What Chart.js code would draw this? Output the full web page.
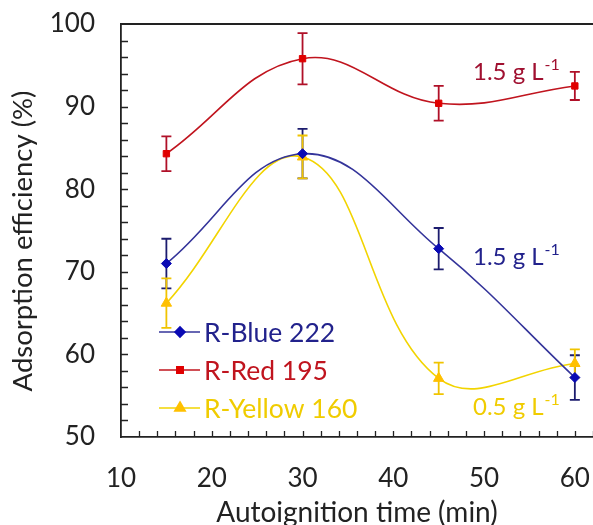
<!DOCTYPE html>
<html>
<head>
<meta charset="utf-8">
<script src="https://cdn.jsdelivr.net/npm/chart.js@4/dist/chart.umd.min.js"></script>
<style>
  html, body { margin: 0; padding: 0; background: #fff; }
  #wrap { width: 593px; height: 525px; }
</style>
</head>
<body>
<div id="wrap"><canvas id="chart" width="593" height="525"></canvas></div>
<script>
const times = [15, 30, 45, 60];
const blueVals = [71.0, 84.3, 72.8, 57.2];
const blueErr = [3.0, 3.0, 2.5, 2.7];
const redVals = [84.3, 95.8, 90.4, 92.5];
const redErr = [2.1, 3.1, 2.1, 1.7];
const yellowVals = [66.2, 83.9, 57.1, 58.9];
const yellowErr = [3.0, 2.6, 1.9, 1.7];

const seriesNames = ["R-Blue 222", "R-Red 195", "R-Yellow 160"];
const xTickValues = [10, 20, 30, 40, 50, 60];
const yTickValues = [50, 60, 70, 80, 90, 100];
const yTitle = "Adsorption efficiency (%)";

const FONT = "Lato, 'Open Sans', sans-serif";

const series = [
  { vals: blueVals, err: blueErr, line: "#34349a", point: "#0a0ab4", errColor: "#1c1c6e", text: "#22228c", style: "rectRot", radius: 5 },
  { vals: redVals, err: redErr, line: "#c0141e", point: "#e00000", errColor: "#b01028", text: "#c0141e", style: "rect", radius: 4.5 },
  { vals: yellowVals, err: yellowErr, line: "#f2d400", point: "#ffc000", errColor: "#f0c400", text: "#f0cc00", style: "triangle", radius: 6 },
];

function toPoints(vals) {
  return times.map((t, i) => ({ x: t, y: vals[i] }));
}

const frameAndBars = {
  id: "frameAndBars",
  beforeDatasetsDraw(chart) {
    const { ctx, scales: { x, y } } = chart;
    ctx.save();
    ctx.lineWidth = 1.8;
    series.forEach((s) => {
      ctx.strokeStyle = s.errColor;
      s.vals.forEach((v, j) => {
        const px = x.getPixelForValue(times[j]);
        const top = y.getPixelForValue(v + s.err[j]);
        const bot = y.getPixelForValue(v - s.err[j]);
        ctx.beginPath();
        ctx.moveTo(px, top);
        ctx.lineTo(px, bot);
        ctx.moveTo(px - 5, top);
        ctx.lineTo(px + 5, top);
        ctx.moveTo(px - 5, bot);
        ctx.lineTo(px + 5, bot);
        ctx.stroke();
      });
    });
    ctx.restore();
  },
  afterDraw(chart) {
    const { ctx, chartArea: a, scales: { x, y } } = chart;
    ctx.save();
    // top frame line
    ctx.strokeStyle = "#222";
    ctx.lineWidth = 1.8;
    ctx.beginPath();
    ctx.moveTo(a.left, a.top);
    ctx.lineTo(a.right, a.top);
    ctx.stroke();
    // inward ticks
    ctx.lineWidth = 1.3;
    ctx.beginPath();
    for (let v = 52; v < 100; v += 2) {
      const py = Math.round(y.getPixelForValue(v)) + 0.5;
      ctx.moveTo(a.left, py);
      ctx.lineTo(a.left + 7, py);
    }
    for (let v = 12; v <= 62; v += 2) {
      const px = Math.round(x.getPixelForValue(v)) + 0.5;
      ctx.moveTo(px, a.bottom);
      ctx.lineTo(px, a.bottom - 6);
    }
    ctx.stroke();

    // y axis title
    ctx.save();
    ctx.translate(32, 241);
    ctx.rotate(-Math.PI / 2);
    ctx.fillStyle = "#222";
    ctx.font = "27.5px " + FONT;
    ctx.textAlign = "center";
    ctx.textBaseline = "alphabetic";
    ctx.fillText(yTitle, 0, 0);
    ctx.restore();

    // legend inside plot
    const rows = [332, 370, 408];
    series.forEach((s, i) => {
      const cy = rows[i];
      ctx.strokeStyle = s.line;
      ctx.lineWidth = 1.6;
      ctx.beginPath();
      ctx.moveTo(159, cy);
      ctx.lineTo(200, cy);
      ctx.stroke();
      ctx.fillStyle = s.point;
      ctx.strokeStyle = s.point;
      Chart.helpers.drawPoint(ctx, { pointStyle: s.style, radius: s.radius, borderWidth: 1 }, 180, cy);
      ctx.fillStyle = s.text;
      ctx.font = "26.5px " + FONT;
      ctx.textAlign = "left";
      ctx.textBaseline = "middle";
      ctx.fillText(seriesNames[i], 204, cy + 1);
    });

    // concentration labels
    const labels = [
      { main: "1.5 g L", sup: "-1", color: "#a01030", px: 473, base: 80 },
      { main: "1.5 g L", sup: "-1", color: "#22228c", px: 473, base: 265 },
      { main: "0.5 g L", sup: "-1", color: "#f0cc00", px: 473, base: 415 },
    ];
    labels.forEach((l) => {
      ctx.fillStyle = l.color;
      ctx.textAlign = "left";
      ctx.textBaseline = "alphabetic";
      ctx.font = "24px " + FONT;
      ctx.fillText(l.main, l.px, l.base);
      const w = ctx.measureText(l.main).width;
      ctx.font = "16px " + FONT;
      ctx.fillText(l.sup, l.px + w + 1, l.base - 10);
    });
    ctx.restore();
  },
};

new Chart(document.getElementById("chart"), {
  type: "line",
  data: {
    datasets: series.map((s, i) => ({
      label: seriesNames[i],
      data: toPoints(s.vals),
      borderColor: s.line,
      backgroundColor: s.point,
      borderWidth: 1.6,
      tension: 0.4,
      pointStyle: s.style,
      pointRadius: s.radius,
      pointBackgroundColor: s.point,
      pointBorderColor: s.point,
      pointBorderWidth: 1,
    })),
  },
  options: {
    responsive: false,
    animation: false,
    events: [],
    layout: { autoPadding: false, padding: { top: 24, right: 0, left: 0, bottom: 0 } },
    plugins: { legend: { display: false }, tooltip: { enabled: false } },
    scales: {
      x: {
        type: "linear",
        min: 10,
        max: 62,
        afterBuildTicks(scale) {
          scale.ticks = xTickValues.map((v) => ({ value: v }));
        },
        afterFit(scale) {
          scale.height = 88;
          scale.paddingLeft = 0;
          scale.paddingRight = 0;
        },
        grid: { display: false, drawTicks: false },
        border: { display: true, color: "#222", width: 1.8 },
        ticks: { color: "#222", font: { family: FONT, size: 26 }, padding: 26, maxRotation: 0 },
        title: {
          display: true,
          text: "Autoignition time (min)",
          color: "#222",
          font: { family: FONT, size: 28 },
          padding: { top: 0, bottom: -5 },
        },
      },
      y: {
        min: 50,
        max: 100,
        afterBuildTicks(scale) {
          scale.ticks = yTickValues.map((v) => ({ value: v }));
        },
        afterFit(scale) {
          scale.width = 121;
          scale.paddingTop = 0;
          scale.paddingBottom = 0;
        },
        grid: { display: false, drawTicks: false },
        border: { display: true, color: "#222", width: 1.8 },
        ticks: { color: "#222", font: { family: FONT, size: 26 }, padding: 26 },
        title: { display: false },
      },
    },
  },
  plugins: [frameAndBars],
});
</script>
</body>
</html>
